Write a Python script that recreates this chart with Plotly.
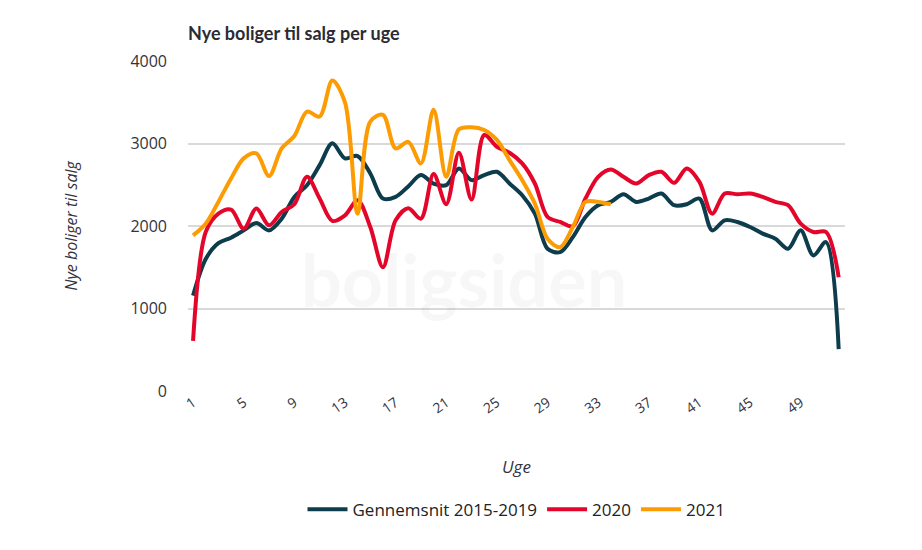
import plotly.graph_objects as go

weeks = list(range(1, 53))
tick_weeks = list(range(1, 53, 4))

avg_2015_2019 = [1156, 1600, 1793, 1858, 1947, 2036, 1947, 2089, 2353, 2495,
                 2738, 3002, 2820, 2848, 2637, 2333, 2353, 2480, 2617, 2515,
                 2495, 2698, 2556, 2617, 2657, 2515, 2373, 2150, 1724, 1684,
                 1866, 2110, 2252, 2292, 2385, 2292, 2333, 2393, 2252, 2264,
                 2333, 1947, 2069, 2049, 1988, 1907, 1846, 1724, 1947, 1643,
                 1805, 507]
y2020 = [608, 1927, 2150, 2199, 1967, 2211, 2008, 2170, 2264, 2596,
         2333, 2061, 2130, 2312, 1988, 1500, 2069, 2215, 2089, 2629,
         2264, 2888, 2320, 3103, 2961, 2888, 2759, 2515, 2110, 2049,
         1996, 2333, 2596, 2685, 2596, 2515, 2617, 2657, 2523, 2698,
         2535, 2150, 2393, 2385, 2393, 2353, 2292, 2252, 2028, 1927,
         1927, 1379]
y2021 = [1886, 2028, 2292, 2576, 2820, 2880, 2605, 2941, 3091, 3387,
         3327, 3765, 3500, 2150, 3266, 3347, 2941, 3020, 2759, 3408,
         2596, 3172, 3197, 3164, 3043, 2799, 2556, 2272, 1846, 1744,
         1988, 2292, 2292, 2264]

series = [
    ("Gennemsnit 2015-2019", avg_2015_2019, "#0d3d4d"),
    ("2020", y2020, "#e3062a"),
    ("2021", y2021, "#fd9b02"),
]

fig = go.Figure()
for name, vals, color in series:
    fig.add_trace(go.Scatter(
        x=weeks[:len(vals)], y=vals, name=name, mode="lines",
        line=dict(color=color, width=4, shape="spline", smoothing=0.9),
    ))

fig.add_annotation(
    text="boligsiden", xref="paper", yref="paper", x=0.42, y=0.34,
    showarrow=False, font=dict(family="Lato", size=72, color="rgba(0,0,0,0.03)", weight="bold"),
)

fig.update_layout(
    width=922, height=550,
    paper_bgcolor="white", plot_bgcolor="white",
    margin=dict(l=180, r=85, t=53, b=167),
    title=dict(text="<b>Nye boliger til salg per uge</b>", x=180/922, xanchor="left",
               y=1 - 26/550, yanchor="middle",
               font=dict(family="Lato", size=18, color="#2b2b33")),
    font=dict(family="Lato", color="#333340"),
    showlegend=True,
    legend=dict(orientation="h", x=0.5, xanchor="center", y=-0.36, yanchor="middle",
                font=dict(family="Open Sans", size=17, color="#222"),
                itemwidth=40, tracegroupgap=0),
    xaxis=dict(
        range=[0.6, 52.5], tickmode="array", tickvals=tick_weeks,
        ticktext=[str(w) for w in tick_weeks], tickangle=-35,
        showgrid=False, zeroline=False, showline=False,
        tickfont=dict(family="Open Sans", size=14, color="#333340"),
        title=dict(text="<i>Uge</i>", font=dict(family="Open Sans", size=17, color="#333340"), standoff=44),
    ),
    yaxis=dict(
        range=[0, 4000], tickvals=[0, 1000, 2000, 3000, 4000],
        showgrid=True, gridcolor="#d9d9d9", gridwidth=1.5,
        zeroline=False, showline=False, ticklabelstandoff=20,
        tickfont=dict(family="Open Sans", size=16, color="#333340"),
        title=dict(text="<i>Nye boliger til salg</i>", font=dict(family="Open Sans", size=16, color="#333340"), standoff=48),
    ),
)

fig.write_html("out.html")
